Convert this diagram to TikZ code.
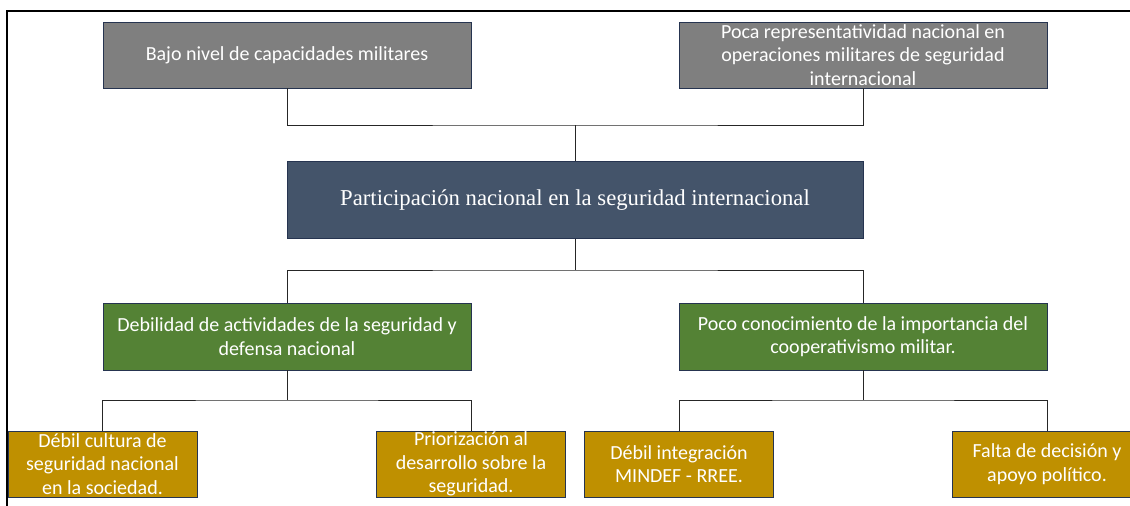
\documentclass[tikz,border=0pt]{standalone}
\usepackage{fontspec}
\setmainfont{Carlito}
\newfontfamily\serifbox{Liberation Serif}
\usepackage{tikz}
\usetikzlibrary{positioning}
\definecolor{grisbox}{HTML}{7F7F7F}
\definecolor{azulbox}{HTML}{44546A}
\definecolor{verdebox}{HTML}{548235}
\definecolor{orobox}{HTML}{BF9000}
\definecolor{bordebox}{HTML}{263450}
\tikzset{
  caja/.style={draw=bordebox,line width=0.9pt,text=white,align=center,inner sep=0pt,
    font=\fontsize{20}{23.5}\selectfont},
  efecto/.style={caja,fill=grisbox,minimum width=368,minimum height=66},
  problema/.style={caja,fill=azulbox,minimum width=576,minimum height=77,
    font=\serifbox\fontsize{22.7}{26}\selectfont},
  causa/.style={caja,fill=verdebox,minimum width=368,minimum height=67},
  subcausa/.style={caja,fill=orobox,minimum width=189,minimum height=66},
  enlace/.style={draw=black!85,line width=0.9pt}
}
\begin{document}
\begin{tikzpicture}[x=1pt,y=-1pt]
 %arbol de problemas
  \useasboundingbox (0,0) rectangle (1130,506);
  %marco
    \draw[line width=1.4pt] (7,506) -- (7,11) -- (1130,11);
  %efectos
    \node[efecto] (bajo) at (287,55) {Bajo nivel de capacidades militares};
    \node[efecto] (poca) at (863,55) {Poca representatividad nacional en\\operaciones militares de seguridad\\internacional};
  %problema central
    \node[problema] (part) at (575,200) {Participación nacional en la seguridad internacional};
  %causas
    \node[causa] (debil) at (287,336.5) {Debilidad de actividades de la seguridad y\\defensa nacional};
    \node[causa] (conoc) at (863,336.5) {Poco conocimiento de la importancia del\\cooperativismo militar.};
  %subcausas
    \node[subcausa] (cult) at (102.5,464) {Débil cultura de\\seguridad nacional\\en la sociedad.};
    \node[subcausa] (prior) at (471,464) {Priorización al\\desarrollo sobre la\\seguridad.};
    \node[subcausa] (integ) at (679,464) {Débil integración\\MINDEF - RREE.};
    \node[subcausa] (falta) at (1047,464) {Falta de decisión y\\apoyo político.};
  %uniones
    \coordinate (u1) at (575,125);
    \coordinate (u2) at (575,270);
    \coordinate (u3) at (287,400);
    \coordinate (u4) at (863,400);
  %draw edges
    \draw[enlace] (bajo.south) |- (u1) -| (poca.south);
    \draw[enlace] (u1) -- (part.north);
    \draw[enlace] (part.south) -- (u2);
    \draw[enlace] (debil.north) |- (u2) -| (conoc.north);
    \draw[enlace] (debil.south) -- (u3);
    \draw[enlace] (cult.north) |- (u3) -| (prior.north);
    \draw[enlace] (conoc.south) -- (u4);
    \draw[enlace] (integ.north) |- (u4) -| (falta.north);
\end{tikzpicture}
\end{document}
